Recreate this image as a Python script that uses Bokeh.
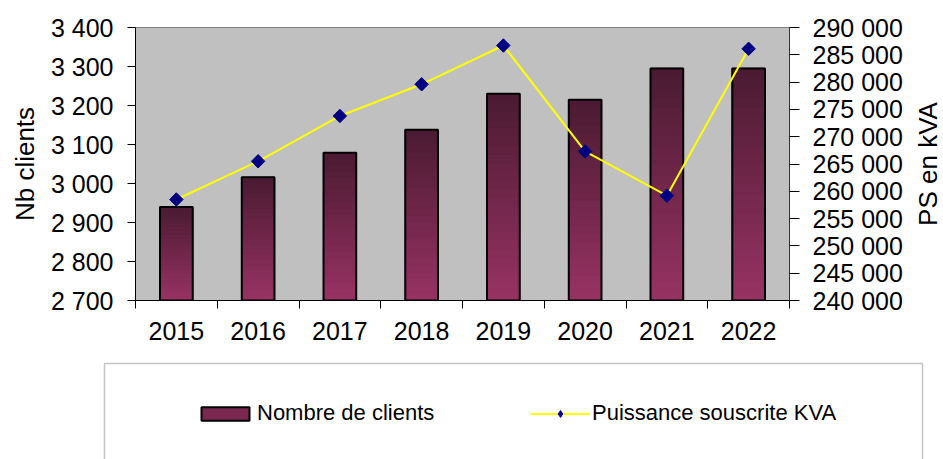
import math
import numpy as np
from bokeh.plotting import figure
from bokeh.layouts import column, row
from bokeh.models import (Range1d, LinearAxis, FixedTicker, Legend, LegendItem,
                          BoxAnnotation, Label)
from bokeh.embed import file_html
from bokeh.resources import INLINE

# ---- data ----
years = ["2015", "2016", "2017", "2018", "2019", "2020", "2021", "2022"]
clients = [2940, 3016, 3079, 3138, 3230, 3215, 3295, 3295]
puissance = [258500, 265500, 273800, 279600, 286700, 267300, 259200, 286100]
left_ticks = [2700, 2800, 2900, 3000, 3100, 3200, 3300, 3400]
right_ticks = [240000, 245000, 250000, 255000, 260000, 265000, 270000,
               275000, 280000, 285000, 290000]
series_names = ["Nombre de clients", "Puissance souscrite KVA"]
left_title = "Nb clients"
right_title = "PS en kVA"

FONT = "Liberation Sans"
TOP_RGB = np.array([74, 26, 50])
BOT_RGB = np.array([152, 51, 99])
BASE = left_ticks[0]
BAR_W = 0.4
W = 943
W_R = 36                 # narrow strip holding the right-hand axis title
H_TOP = 352
H_LEG = 459 - H_TOP
B_TOP, B_BOT = 27, H_TOP - 27 - 273

p = figure(width=W - W_R, height=H_TOP, x_range=Range1d(0, len(years)),
           y_range=Range1d(left_ticks[0], left_ticks[-1]),
           x_axis_location=None, y_axis_location=None,
           output_backend="svg", toolbar_location=None,
           min_border_left=135, min_border_right=154 - W_R,
           min_border_top=B_TOP, min_border_bottom=B_BOT)
p.background_fill_color = "#C0C0C0"
p.border_fill_color = "white"
p.outline_line_color = "#808080"
p.outline_line_width = 1
p.xgrid.visible = False
p.ygrid.visible = False

p.extra_y_ranges = {"ps": Range1d(right_ticks[0], right_ticks[-1])}

# ---- gradient bars (stacked slices per bar) ----
xc = [i + 0.5 for i in range(len(years))]
N = 24
sx, sb, st, sc = [], [], [], []
for x, v in zip(xc, clients):
    h = v - BASE
    for i in range(N):
        t = (i + 0.5) / N
        rgb = (BOT_RGB + t * (TOP_RGB - BOT_RGB)).round().astype(int)
        sx.append(x)
        sb.append(BASE + h * i / N)
        st.append(BASE + h * (i + 1) / N)
        sc.append("#%02x%02x%02x" % tuple(rgb))
p.vbar(x=sx, bottom=sb, top=st, width=BAR_W, fill_color=sc, line_color=sc,
       line_width=1.2)
p.vbar(x=xc, bottom=BASE, top=clients, width=BAR_W, fill_color=None,
       line_color="black", line_width=2)

# ---- line on secondary axis ----
p.line(x=xc, y=puissance, y_range_name="ps", line_color="#FFFF00", line_width=2)
p.scatter(x=xc, y=puissance, y_range_name="ps", marker="square", angle=0.7854,
          size=9.5, fill_color="#000080", line_color="#000080")

# ---- axes ----
xaxis = LinearAxis(ticker=FixedTicker(ticks=xc, minor_ticks=list(range(len(years) + 1))))
xaxis.major_label_overrides = {x: y for x, y in zip(xc, years)}
xaxis.major_tick_out = 0
xaxis.major_tick_in = 0
xaxis.minor_tick_out = 8
xaxis.minor_tick_in = 0
xaxis.minor_tick_line_color = "black"
xaxis.axis_line_color = "black"
xaxis.major_label_text_font = FONT
xaxis.major_label_text_font_size = "25px"
xaxis.major_label_text_color = "black"
xaxis.major_label_standoff = 13
p.add_layout(xaxis, "below")


def fmt(v):
    return f"{v:,}".replace(",", " ")


yl = LinearAxis(ticker=FixedTicker(ticks=left_ticks, minor_ticks=[]))
yl.major_label_overrides = {v: fmt(v) for v in left_ticks}
yl.axis_label = left_title
yl.major_tick_out = 8
yl.major_tick_in = 0
yl.minor_tick_line_color = None
yl.axis_line_color = "black"
yl.major_tick_line_color = "black"
yl.major_label_text_font = FONT
yl.major_label_text_font_size = "25px"
yl.major_label_text_color = "black"
yl.major_label_standoff = 14
yl.axis_label_text_font = FONT
yl.axis_label_text_font_size = "26px"
yl.axis_label_text_font_style = "normal"
yl.axis_label_text_color = "black"
yl.axis_label_standoff = 8
p.add_layout(yl, "left")

yr = LinearAxis(y_range_name="ps", ticker=FixedTicker(ticks=right_ticks, minor_ticks=[]))
yr.major_label_overrides = {v: fmt(v) for v in right_ticks}
yr.major_tick_out = 10
yr.major_tick_in = 0
yr.minor_tick_line_color = None
yr.axis_line_color = "#333333"
yr.major_tick_line_color = "black"
yr.major_label_text_font = FONT
yr.major_label_text_font_size = "25px"
yr.major_label_text_color = "black"
yr.major_label_standoff = 13
p.add_layout(yr, "right")

# ---- strip with the right axis title ----
r = figure(width=W_R, height=H_TOP, x_range=Range1d(0, 1), y_range=Range1d(0, 1),
           x_axis_location=None, y_axis_location=None,
           output_backend="svg", toolbar_location=None,
           min_border_left=0, min_border_right=0,
           min_border_top=B_TOP, min_border_bottom=B_BOT)
r.outline_line_color = None
r.xgrid.visible = False
r.ygrid.visible = False
r.background_fill_color = "white"
r.border_fill_color = "white"
r.add_layout(Label(x=20, y=273 / 2, x_units="screen", y_units="screen",
                   text=right_title, angle=math.pi / 2, text_align="center",
                   text_baseline="middle", text_font=FONT, text_font_size="26px",
                   text_color="black"))

# ---- legend figure ----
q = figure(width=W, height=H_LEG, x_range=Range1d(0, 1), y_range=Range1d(0, 1),
           x_axis_location=None, y_axis_location=None,
           output_backend="svg", toolbar_location=None,
           min_border_left=0, min_border_right=0, min_border_top=0, min_border_bottom=0)
q.outline_line_color = None
q.xgrid.visible = False
q.ygrid.visible = False
q.background_fill_color = "white"
q.border_fill_color = "white"

nan = [float("nan")]
bar_proxy = q.vbar(x=nan, top=nan, bottom=0, width=BAR_W, fill_color="#7a2850",
                   line_color="black", line_width=2)
ln_proxy = q.line(x=nan, y=nan, line_color="#FFFF00", line_width=2)
mk_proxy = q.scatter(x=nan, y=nan, marker="diamond", size=14,
                     fill_color="#000080", line_color="#000080")

box = BoxAnnotation(left=104, right=922, top=11, bottom=200,
                    left_units="canvas", right_units="canvas",
                    top_units="canvas", bottom_units="canvas",
                    fill_color=None, fill_alpha=0, line_color="#404040", line_width=1.5)
q.add_layout(box)

legend = Legend(items=[LegendItem(label=series_names[0], renderers=[bar_proxy]),
                       LegendItem(label=series_names[1], renderers=[ln_proxy, mk_proxy])],
                location=(195, 33), orientation="horizontal",
                glyph_width=60, glyph_height=17, label_standoff=2, label_width=179,
                spacing=94, padding=0, margin=0,
                border_line_color=None, background_fill_alpha=0,
                label_text_font=FONT, label_text_font_size="22px",
                label_text_color="black")
q.add_layout(legend)

layout = column(row(p, r, spacing=0), row(q), spacing=0)
open("out.html", "w").write(file_html(layout, INLINE))
